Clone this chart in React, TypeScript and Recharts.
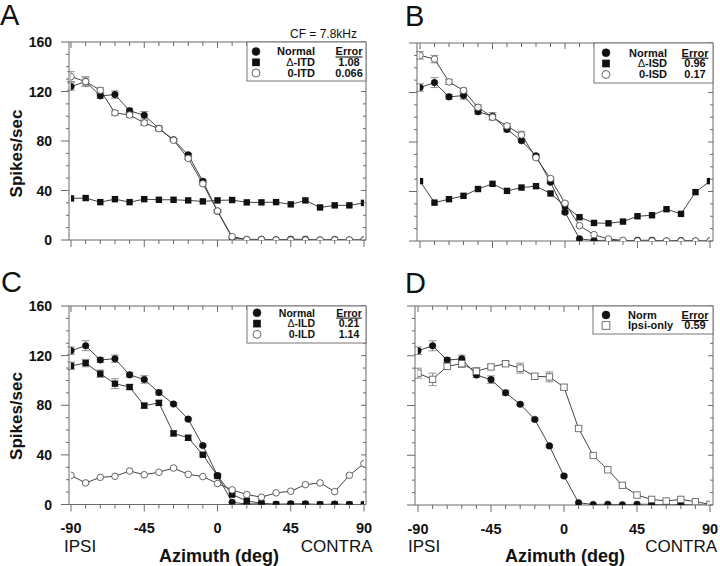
import { LineChart, Line, XAxis, YAxis, ErrorBar } from "recharts";

// azimuth of each measurement (deg), ipsi (-) to contra (+)
const AZIMUTH = [-90, -81, -72, -63, -54, -45, -36, -27, -18, -9, 0, 9, 18, 27, 36, 45, 54, 63, 72, 81, 90];
const X_MAJOR = [-90, -45, 0, 45, 90];
const Y_TICKS = [0, 10, 20, 30, 40, 50, 60, 70, 80, 90, 100, 110, 120, 130, 140, 150, 160];
const Y_MAJOR = [0, 40, 80, 120, 160];

// same neuron, normal stimulus (shown in every panel)
const normal = [124, 128, 116.5, 117.5, 104.5, 100.8, 90.2, 81, 68.8, 47.5, 23.3, 1.8, 0.4, 0.6, 0.2, 0.6, 0.6, 0, 0.4, 0, 0];
const normalErr = [3, 4, 2, 3, 2, 3, 2, 1, 1, 1, 1, 0, 0, 0, 0, 0, 0, 0, 0, 0, 0];

// A: ITD
const deltaITD = [33.6, 33.9, 30.6, 33, 30.6, 33, 32.5, 32.5, 32, 31.2, 32, 32.3, 30.4, 30.4, 30.6, 28.8, 32, 26.3, 28, 28, 30];
const zeroITD = [132, 128, 121, 102.7, 101, 94.6, 90, 80.6, 66, 45.4, 23.4, 2.7, 0.3, 0.3, 0, 0, 0, 0, 0, 0, 0];
const zeroITDErr = [4, 3, 2, 2, 2, 2, 1, 1, 1, 1, 1, 0, 0, 0, 0, 0, 0, 0, 0, 0, 0];

// B: ISD
const deltaISD = [48.4, 31, 33.8, 36.5, 42, 46.2, 40.5, 43.2, 44.3, 38.4, 28.4, 19.2, 14.6, 14.3, 15.7, 20, 20.8, 25.7, 21.9, 39.5, 48.4];
const zeroISD = [150, 147, 128.6, 121.6, 108, 100, 93, 85.7, 67.3, 50.5, 30.5, 12.4, 5.1, 1.6, 0.5, 0, 0, 0, 0, 0, 0];
const zeroISDErr = [3, 3, 2, 2, 2, 2, 2, 3, 1, 1, 1, 0, 0, 0, 0, 0, 0, 0, 0, 0, 0];

// C: ILD
const deltaILD = [111.8, 114, 105.4, 97.4, 94.7, 79.7, 81.9, 57.3, 53.8, 40.1, 23, 8, 2.9, 1, 0, 0, 0, 0, 0, 0, 0];
const deltaILDErr = [3, 3, 3, 4, 2, 2, 2, 2, 2, 1, 1, 1, 0, 0, 0, 0, 0, 0, 0, 0, 0];
const zeroILD = [23.5, 17.4, 21.9, 22.7, 27, 24, 26, 29.4, 24.3, 22.5, 16.9, 11.8, 8, 5.9, 9.4, 10.7, 16, 17.4, 10.4, 23.5, 33];

// D: ipsi-only
const ipsiOnly = [106, 101, 111.5, 113.6, 107.5, 111, 113.6, 110, 103.5, 103, 94.7, 61.5, 39.8, 28.3, 15.8, 8, 4.5, 3.2, 4.5, 2.7, 0.5];
const ipsiOnlyErr = [4, 5, 2, 3, 3, 2, 2, 4, 2, 4, 2, 0, 0, 0, 0, 0, 0, 0, 0, 0, 0];

const FONT = '"Liberation Sans", Arial, Helvetica, sans-serif';
const FRAME = "#6a6a6a";
const LINE = "#444";
const INK = "#111";

type Marker = "filledCircle" | "filledSquare" | "openCircle" | "openSquare";
interface SeriesDef {
  key: string;
  values: number[];
  err?: number[];
  marker: Marker;
}
interface Frame {
  left: number;
  top: number;
  w: number;
  h: number;
}

function drawMarker(marker: Marker, cx: number, cy: number, key?: string, size = 1) {
  const r = 3.3 * size;
  const s = 6.4 * size;
  if (marker === "filledCircle")
    return <circle key={key} cx={cx} cy={cy} r={r} fill={INK} stroke={INK} strokeWidth={0.5} />;
  if (marker === "openCircle")
    return <circle key={key} cx={cx} cy={cy} r={r} fill="#fff" stroke="#555" strokeWidth={0.9} />;
  if (marker === "filledSquare")
    return <rect key={key} x={cx - s / 2} y={cy - s / 2} width={s} height={s} fill={INK} />;
  return <rect key={key} x={cx - s / 2} y={cy - s / 2} width={s} height={s} fill="#fff" stroke="#666" strokeWidth={0.9} />;
}

const bottomTick = (labels: boolean) => (p: any) => {
  const v = p.payload.value;
  const major = X_MAJOR.includes(v);
  return (
    <g>
      <line x1={p.x} x2={p.x} y1={p.y} y2={p.y + (major ? 7 : 4)} stroke={FRAME} />
      {labels && major && (
        <text x={p.x} y={p.y + 28.5} textAnchor="middle" fontSize={14.5} fontWeight="bold" fill={INK} fontFamily={FONT}>
          {v}
        </text>
      )}
    </g>
  );
};

const topTick = (p: any) => {
  const major = X_MAJOR.includes(p.payload.value);
  return <line x1={p.x} x2={p.x} y1={p.y} y2={p.y + (major ? 6 : 4)} stroke={FRAME} />;
};

const leftTick = (labels: boolean) => (p: any) => {
  const v = p.payload.value;
  const major = Y_MAJOR.includes(v);
  return (
    <g>
      <line x1={p.x} x2={p.x - (major ? 8 : 3)} y1={p.y} y2={p.y} stroke={FRAME} />
      {labels && major && (
        <text x={p.x - 17} y={p.y} dy="0.36em" textAnchor="end" fontSize={14} fontWeight="bold" fill={INK} fontFamily={FONT}>
          {v}
        </text>
      )}
    </g>
  );
};

const rightTick = (p: any) => {
  const major = Y_MAJOR.includes(p.payload.value);
  return <line x1={p.x} x2={p.x - (major ? 5 : 3)} y1={p.y} y2={p.y} stroke={FRAME} />;
};

function Panel({ frame, pad, showX, showY, series }: { frame: Frame; pad: number; showX: boolean; showY: boolean; series: SeriesDef[] }) {
  const LEFT = 62;
  const RIGHT = 14;
  const TOP = 12;
  const BOTTOM = showX ? 40 : 12;

  const rows = AZIMUTH.map((az, i) => {
    const row: Record<string, number> = { az };
    series.forEach((s) => {
      row[s.key] = s.values[i];
      if (s.err) row[s.key + "Err"] = s.err[i];
    });
    return row;
  });

  const axisLine = { stroke: FRAME, strokeWidth: 1 };

  return (
    <div style={{ position: "absolute", left: frame.left - LEFT, top: frame.top - TOP }}>
      <LineChart width={LEFT + frame.w + RIGHT} height={TOP + frame.h + BOTTOM} data={rows} margin={{ top: 0, right: 0, bottom: 0, left: 0 }}>
        <XAxis
          xAxisId="b"
          dataKey="az"
          type="number"
          domain={[-90, 90]}
          allowDataOverflow
          ticks={AZIMUTH}
          interval={0}
          height={BOTTOM}
          padding={{ left: pad, right: pad }}
          tickSize={0}
          tickMargin={0}
          tickLine={false}
          axisLine={axisLine}
          tick={bottomTick(showX)}
        />
        <XAxis
          xAxisId="t"
          orientation="top"
          dataKey="az"
          type="number"
          domain={[-90, 90]}
          allowDataOverflow
          ticks={AZIMUTH}
          interval={0}
          height={TOP}
          padding={{ left: pad, right: pad }}
          tickSize={0}
          tickMargin={0}
          tickLine={false}
          axisLine={axisLine}
          tick={topTick}
        />
        <YAxis
          yAxisId="l"
          type="number"
          domain={[0, 160]}
          allowDataOverflow
          ticks={Y_TICKS}
          interval={0}
          width={LEFT}
          tickSize={0}
          tickMargin={0}
          tickLine={false}
          axisLine={axisLine}
          tick={leftTick(showY)}
        />
        <YAxis
          yAxisId="r"
          orientation="right"
          type="number"
          domain={[0, 160]}
          allowDataOverflow
          ticks={Y_TICKS}
          interval={0}
          width={RIGHT}
          tickSize={0}
          tickMargin={0}
          tickLine={false}
          axisLine={axisLine}
          tick={rightTick}
        />
        {series.map((s) => (
          <Line
            key={s.key}
            xAxisId="b"
            yAxisId="l"
            dataKey={s.key}
            type="linear"
            stroke={LINE}
            strokeWidth={1}
            dot={(d: any) => drawMarker(s.marker, d.cx, d.cy, `${s.key}-${d.index}`)}
            activeDot={false}
            isAnimationActive={false}
          >
            {s.err && <ErrorBar dataKey={s.key + "Err"} width={4} stroke="#777" strokeWidth={0.8} direction="y" isAnimationActive={false} />}
          </Line>
        ))}
      </LineChart>
    </div>
  );
}

interface LegendRow {
  label: string;
  delta?: boolean;
  error?: string;
  marker: Marker;
  y: number;
}

function LegendBox({ x, y, w, h, symX, nameX, nameAnchor, errX, rows, fontSize = 11 }: { x: number; y: number; w: number; h: number; symX: number; nameX: number; nameAnchor: "start" | "end"; errX: number; rows: LegendRow[]; fontSize?: number }) {
  const base = fontSize * 0.36;
  return (
    <g fontFamily={FONT} fontSize={fontSize} fontWeight="bold" fill={INK}>
      <rect x={x} y={y} width={w} height={h} fill="#fff" stroke="#777" strokeWidth={1} />
      {rows.map((r, i) => (
        <g key={r.label}>
          {drawMarker(r.marker, symX, r.y, undefined, 1.2)}
          <text x={nameX} y={r.y + base}>
            <tspan textAnchor={nameAnchor} x={nameX}>
              {r.delta && <tspan fontWeight="normal">Δ</tspan>}
              {r.label}
            </tspan>
          </text>
          {i === 0 && (
            <text x={errX} y={r.y + base} textAnchor="middle" style={{ textDecoration: "underline" }}>
              Error
            </text>
          )}
          {r.error && (
            <text x={errX} y={r.y + base} textAnchor="middle">
              {r.error}
            </text>
          )}
        </g>
      ))}
    </g>
  );
}

export default function App() {
  const frameA = { left: 69, top: 42, w: 297, h: 198 };
  const frameB = { left: 417, top: 43, w: 296, h: 198 };
  const frameC = { left: 69, top: 306, w: 297, h: 198.5 };
  const frameD = { left: 415, top: 306, w: 298, h: 199 };

  return (
    <div style={{ position: "absolute", left: 0, top: 0, width: 720, height: 566, background: "#fff", overflow: "hidden" }}>
      <Panel
        frame={frameA}
        pad={2}
        showX={false}
        showY
        series={[
          { key: "normal", values: normal, err: normalErr, marker: "filledCircle" },
          { key: "deltaITD", values: deltaITD, marker: "filledSquare" },
          { key: "zeroITD", values: zeroITD, err: zeroITDErr, marker: "openCircle" },
        ]}
      />
      <Panel
        frame={frameB}
        pad={3}
        showX={false}
        showY={false}
        series={[
          { key: "normal", values: normal, err: normalErr, marker: "filledCircle" },
          { key: "deltaISD", values: deltaISD, marker: "filledSquare" },
          { key: "zeroISD", values: zeroISD, err: zeroISDErr, marker: "openCircle" },
        ]}
      />
      <Panel
        frame={frameC}
        pad={2}
        showX
        showY
        series={[
          { key: "deltaILD", values: deltaILD, err: deltaILDErr, marker: "filledSquare" },
          { key: "normal", values: normal, err: normalErr, marker: "filledCircle" },
          { key: "zeroILD", values: zeroILD, marker: "openCircle" },
        ]}
      />
      <Panel
        frame={frameD}
        pad={3}
        showX
        showY={false}
        series={[
          { key: "normal", values: normal, err: normalErr, marker: "filledCircle" },
          { key: "ipsiOnly", values: ipsiOnly, err: ipsiOnlyErr, marker: "openSquare" },
        ]}
      />

      <svg width={720} height={566} style={{ position: "absolute", left: 0, top: 0, pointerEvents: "none" }}>
        <g fontFamily={FONT} fill={INK}>
          <text x={0} y={25} fontSize={29}>A</text>
          <text x={405} y={26} fontSize={29}>B</text>
          <text x={1} y={292} fontSize={29}>C</text>
          <text x={405} y={293} fontSize={29}>D</text>
          <text x={357} y={38} fontSize={12} textAnchor="end">CF = 7.8kHz</text>

          <text transform="translate(22,153.5) rotate(-90)" textAnchor="middle" fontSize={17} fontWeight="bold">Spikes/sec</text>
          <text transform="translate(22,416) rotate(-90)" textAnchor="middle" fontSize={17} fontWeight="bold">Spikes/sec</text>

          <text x={64} y={551.5} fontSize={17}>IPSI</text>
          <text x={372.5} y={551.5} fontSize={17} textAnchor="end">CONTRA</text>
          <text x={219} y={562} fontSize={18} fontWeight="bold" textAnchor="middle">Azimuth (deg)</text>

          <text x={408} y={551.5} fontSize={17}>IPSI</text>
          <text x={717} y={551.5} fontSize={17} textAnchor="end">CONTRA</text>
          <text x={565} y={562} fontSize={18} fontWeight="bold" textAnchor="middle">Azimuth (deg)</text>
        </g>

        <LegendBox
          x={247} y={42} w={119} h={39} symX={256} nameX={315} nameAnchor="end" errX={349}
          rows={[
            { label: "Normal", marker: "filledCircle", y: 51.5 },
            { label: "-ITD", delta: true, error: "1.08", marker: "filledSquare", y: 62.3 },
            { label: "0-ITD", error: "0.066", marker: "openCircle", y: 73 },
          ]}
        />
        <LegendBox
          x={594} y={43} w={119} h={40} symX={606} nameX={667} nameAnchor="end" errX={695}
          rows={[
            { label: "Normal", marker: "filledCircle", y: 52.7 },
            { label: "-ISD", delta: true, error: "0.96", marker: "filledSquare", y: 63.5 },
            { label: "0-ISD", error: "0.17", marker: "openCircle", y: 74.5 },
          ]}
        />
        <LegendBox
          x={247} y={306} w={119} h={37} symX={257} nameX={315} nameAnchor="end" errX={349} fontSize={10.5}
          rows={[
            { label: "Normal", marker: "filledCircle", y: 312.8 },
            { label: "-ILD", delta: true, error: "0.21", marker: "filledSquare", y: 323.6 },
            { label: "0-ILD", error: "1.14", marker: "openCircle", y: 334.4 },
          ]}
        />
        <LegendBox
          x={593} y={306} w={120} h={28} symX={606} nameX={628} nameAnchor="start" errX={695}
          rows={[
            { label: "Norm", marker: "filledCircle", y: 315 },
            { label: "Ipsi-only", error: "0.59", marker: "openSquare", y: 325.5 },
          ]}
        />
      </svg>
    </div>
  );
}
